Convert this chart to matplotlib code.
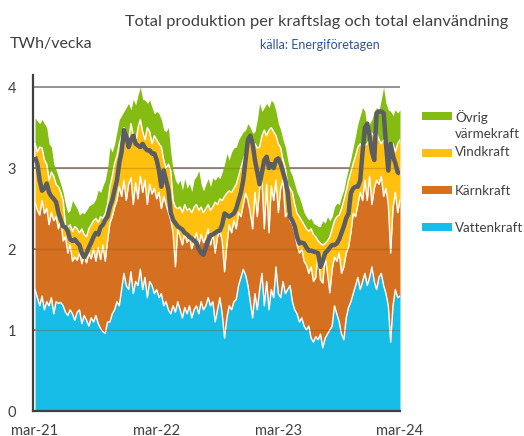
import matplotlib.pyplot as plt
import matplotlib.patches as mpatches
import numpy as np

# Weekly values, TWh/week, mar-21 .. mar-24
vatten = [
    1.50, 1.40, 1.30, 1.42, 1.25, 1.35, 1.30, 1.40, 1.20, 1.35,
    1.33, 1.34, 1.30, 1.22, 1.18, 1.25, 1.20, 1.12, 1.22, 1.25,
    1.08, 1.18, 1.12, 1.05, 1.15, 1.10, 1.18, 1.08, 1.02, 0.98,
    0.96, 1.10, 1.10, 1.20, 1.25, 1.35, 1.30, 1.50, 1.70, 1.55,
    1.50, 1.72, 1.45, 1.60, 1.55, 1.75, 1.50, 1.65, 1.40, 1.60,
    1.55, 1.45, 1.50, 1.40, 1.45, 1.30, 1.35, 1.25, 1.20, 1.30,
    1.22, 1.35, 1.25, 1.15, 1.28, 1.20, 1.30, 1.15, 1.25, 1.30,
    1.20, 1.35, 1.25, 1.30, 1.40, 1.30, 1.35, 1.10, 1.25, 1.40,
    1.20, 0.90, 1.15, 1.30, 1.25, 1.35, 1.38, 1.55, 1.65, 1.75,
    1.68, 1.55, 1.35, 1.15, 1.45, 1.25, 1.50, 1.70, 1.30, 1.60,
    1.25, 1.50, 1.40, 1.78, 1.45, 1.40, 1.60, 1.45, 1.50, 1.55,
    1.35, 1.25, 1.20, 1.10, 1.15, 1.05, 1.00, 1.05, 0.90, 0.85,
    0.92, 0.88, 0.95, 0.78, 0.90, 0.95, 1.00, 1.05, 1.30, 1.20,
    1.10, 0.95, 0.88, 1.15, 1.28, 1.35, 1.45, 1.55, 1.65, 1.50,
    1.60, 1.70, 1.55, 1.65, 1.78, 1.60, 1.50, 1.65, 1.70, 1.55,
    1.45, 1.30, 0.85, 1.30, 1.50, 1.40, 1.42,
]
karn = [
    1.07, 1.08, 1.12, 1.18, 1.19, 1.15, 1.00, 1.05, 1.15, 1.05,
    0.92, 1.04, 0.80, 0.93, 0.77, 0.80, 0.65, 0.78, 0.64, 0.70,
    0.74, 0.74, 0.71, 0.90, 0.73, 0.90, 0.67, 0.94, 0.85, 1.07,
    0.89, 1.00, 1.22, 1.20, 1.27, 1.25, 1.47, 1.15, 1.15, 1.05,
    1.30, 1.16, 1.10, 1.22, 1.07, 1.15, 1.20, 1.20, 1.15, 1.20,
    1.13, 1.30, 1.12, 1.30, 1.05, 1.35, 1.20, 1.20, 1.16, 0.90,
    0.56, 0.90, 0.90, 0.90, 0.92, 0.88, 0.85, 0.85, 0.87, 0.90,
    0.85, 0.83, 0.83, 0.85, 0.85, 0.75, 0.85, 0.85, 0.90, 0.82,
    0.90, 0.82, 0.90, 1.00, 0.95, 1.00, 0.87, 0.90, 0.75, 0.80,
    1.01, 1.05, 1.10, 1.10, 1.25, 1.15, 1.25, 1.15, 0.95, 1.20,
    0.95, 1.28, 1.20, 1.07, 1.00, 1.35, 1.25, 0.95, 0.95, 0.80,
    0.95, 0.95, 0.85, 0.85, 0.85, 0.80, 0.80, 0.65, 0.88, 0.75,
    0.73, 1.07, 0.67, 0.80, 1.00, 0.75, 0.46, 0.70, 0.60, 0.65,
    0.85, 0.75, 0.90, 0.80, 0.74, 0.85, 0.99, 0.85, 0.90, 1.20,
    1.00, 1.15, 1.05, 1.25, 0.77, 1.15, 1.35, 1.15, 1.20, 1.10,
    1.30, 1.25, 1.10, 1.20, 1.20, 1.05, 1.18,
]
vind = [
    0.73, 0.72, 0.84, 0.65, 0.66, 0.55, 0.55, 0.50, 0.55, 0.40,
    0.52, 0.32, 0.50, 0.15, 0.32, 0.25, 0.37, 0.38, 0.39, 0.25,
    0.43, 0.26, 0.32, 0.30, 0.42, 0.35, 0.53, 0.31, 0.53, 0.33,
    0.59, 0.45, 0.45, 0.50, 0.54, 0.55, 0.53, 0.75, 0.65, 0.85,
    0.55, 0.67, 0.85, 0.48, 0.88, 0.70, 0.75, 0.50, 0.95, 0.65,
    0.62, 0.65, 0.73, 0.60, 0.76, 0.45, 0.45, 0.60, 0.61, 0.40,
    0.74, 0.25, 0.37, 0.40, 0.35, 0.40, 0.35, 0.45, 0.40, 0.35,
    0.43, 0.34, 0.37, 0.35, 0.30, 0.43, 0.32, 0.63, 0.40, 0.40,
    0.50, 0.93, 0.64, 0.42, 0.50, 0.40, 0.55, 0.45, 0.61, 0.55,
    0.51, 0.70, 0.90, 1.05, 0.60, 0.85, 0.51, 0.55, 1.22, 0.60,
    1.27, 0.72, 0.85, 0.55, 0.85, 0.50, 0.25, 0.60, 0.35, 0.40,
    0.40, 0.35, 0.39, 0.45, 0.35, 0.45, 0.45, 0.52, 0.47, 0.58,
    0.50, 0.15, 0.45, 0.47, 0.17, 0.40, 0.69, 0.50, 0.45, 0.55,
    0.47, 0.80, 0.82, 0.77, 0.83, 0.75, 0.62, 0.75, 0.71, 0.60,
    0.66, 0.43, 0.70, 0.45, 0.88, 0.65, 0.58, 0.55, 0.40, 0.70,
    0.55, 0.73, 1.30, 0.80, 0.50, 0.85, 0.75,
]
ovrig = [
    0.32, 0.38, 0.29, 0.35, 0.45, 0.45, 0.45, 0.31, 0.15, 0.18,
    0.12, 0.10, 0.10, 0.25, 0.18, 0.18, 0.38, 0.27, 0.25, 0.22,
    0.20, 0.26, 0.33, 0.28, 0.25, 0.22, 0.24, 0.40, 0.30, 0.40,
    0.41, 0.45, 0.49, 0.30, 0.24, 0.30, 0.30, 0.25, 0.20, 0.30,
    0.45, 0.17, 0.45, 0.48, 0.40, 0.40, 0.40, 0.49, 0.30, 0.39,
    0.45, 0.27, 0.35, 0.37, 0.34, 0.37, 0.45, 0.45, 0.23, 0.37,
    0.33, 0.30, 0.33, 0.28, 0.32, 0.27, 0.31, 0.26, 0.34, 0.35,
    0.49, 0.28, 0.27, 0.30, 0.32, 0.29, 0.36, 0.27, 0.35, 0.25,
    0.35, 0.40, 0.49, 0.38, 0.50, 0.50, 0.46, 0.45, 0.39, 0.35,
    0.27, 0.25, 0.15, 0.13, 0.15, 0.35, 0.54, 0.30, 0.28, 0.40,
    0.28, 0.34, 0.35, 0.30, 0.25, 0.22, 0.25, 0.26, 0.30, 0.22,
    0.20, 0.25, 0.26, 0.24, 0.20, 0.15, 0.15, 0.14, 0.13, 0.14,
    0.15, 0.18, 0.21, 0.30, 0.25, 0.30, 0.20, 0.15, 0.17, 0.17,
    0.13, 0.15, 0.13, 0.16, 0.15, 0.17, 0.20, 0.25, 0.29, 0.35,
    0.49, 0.42, 0.17, 0.20, 0.17, 0.30, 0.32, 0.35, 0.55, 0.65,
    0.50, 0.44, 0.45, 0.35, 0.52, 0.38, 0.37,
]
elanvandning = [
    3.14, 3.05, 2.85, 2.72, 2.75, 2.81, 2.70, 2.65, 2.62, 2.58,
    2.45, 2.36, 2.28, 2.27, 2.22, 2.12, 2.10, 2.12, 2.08, 2.05,
    1.95, 1.90, 1.95, 2.02, 2.08, 2.15, 2.20, 2.18, 2.27, 2.30,
    2.36, 2.40, 2.52, 2.60, 2.73, 2.85, 3.06, 3.20, 3.47, 3.40,
    3.26, 3.35, 3.40, 3.30, 3.28, 3.26, 3.30, 3.25, 3.22, 3.22,
    3.18, 3.18, 3.10, 2.97, 2.77, 2.97, 2.85, 2.73, 2.45, 2.36,
    2.32, 2.28, 2.26, 2.24, 2.20, 2.18, 2.15, 2.13, 2.10, 2.08,
    2.00, 1.95, 1.93, 2.02, 2.10, 2.17, 2.18, 2.20, 2.22, 2.23,
    2.30, 2.44, 2.42, 2.40, 2.42, 2.44, 2.50, 2.60, 2.70, 2.85,
    3.10, 3.35, 3.40, 3.30, 3.10, 2.95, 2.80, 2.95, 3.10, 3.14,
    3.00, 3.05, 3.00, 3.10, 3.12, 3.05, 2.95, 2.85, 2.70, 2.40,
    2.35, 2.28, 2.15, 2.07, 2.08, 2.07, 2.02, 1.98, 1.98, 1.97,
    1.96, 1.95, 1.78, 1.85, 1.95, 1.98, 2.02, 2.05, 2.05, 2.07,
    2.12, 2.20, 2.28, 2.38, 2.44, 2.69, 2.75, 2.77, 2.77, 2.85,
    3.20, 3.50, 3.55, 3.40, 3.20, 3.10, 3.68, 3.70, 3.70, 3.68,
    3.30, 2.97, 3.30, 3.15, 3.06, 2.95, 2.93,
]

serier = ['Vattenkraft', 'Kärnkraft', 'Vindkraft', 'Övrig\nvärmekraft']
farger = ['#17bde6', '#d4701f', '#ffc010', '#84bc14']
tick_veckor = [0, 52, 104, 156]
tick_text = ['mar-21', 'mar-22', 'mar-23', 'mar-24']

plt.rcParams['font.family'] = ['Lato', 'DejaVu Sans']
textfarg = '#404040'

fig = plt.figure(figsize=(5.24, 4.36), dpi=100)
ax = fig.add_axes([32.7 / 524, 25 / 436, (400 - 32.7) / 524, (411 - 75) / 436])

x = np.arange(len(vatten))
nivaer = np.cumsum(np.array([vatten, karn, vind, ovrig]), axis=0)
under = np.zeros(len(x))
for niva, farg in zip(nivaer, farger):
    ax.fill_between(x, under, niva, color=farg, lw=0, zorder=2)
    under = niva
for niva in nivaer[:3]:
    ax.plot(x, niva, color='white', lw=1.0, zorder=3)

# gridlines: solid behind, faint on top of the areas
ax.hlines([1, 2, 3, 4], -1, 156, color='#8a8a8a', lw=1.3, zorder=1)
ax.hlines([1, 2, 3], -1, 156, color='#7a3a10', lw=1.0, alpha=0.25, zorder=4)

ax.plot(x, elanvandning, color='#5b5d60', lw=3.2, zorder=5,
        solid_joinstyle='round', solid_capstyle='butt')

ax.set_xlim(-1, 156)
ax.set_ylim(0, 4.15)
ax.set_yticks([0, 1, 2, 3, 4])
ax.set_xticks(tick_veckor)
ax.set_xticklabels(tick_text)
ax.tick_params(axis='both', length=0, labelsize=10.5, colors=textfarg)
ax.tick_params(axis='y', pad=12)
ax.tick_params(axis='x', pad=9)
for s in ['top', 'right']:
    ax.spines[s].set_visible(False)
for s in ['left', 'bottom']:
    ax.spines[s].set_color('#404040')
    ax.spines[s].set_linewidth(1.6)

fig.text(10 / 524, 1 - 44 / 436, 'TWh/vecka', fontsize=11.5, color=textfarg,
         va='center', ha='left')
fig.text(125 / 524, 1 - 22 / 436, 'Total produktion per kraftslag och total elanvändning',
         fontsize=11.8, color=textfarg, va='center', ha='left')
fig.text(320 / 524, 1 - 45 / 436, 'källa: Energiföretagen', fontsize=9,
         color='#2f5597', va='center', ha='center')

# legend drawn by hand to the right of the plot
leg_rect_y = [227.5, 190, 152.5, 116]
leg_text_y = [[228], [191], [152], [117, 134]]
for namn, farg, ry, ty in zip(serier, farger, leg_rect_y, leg_text_y):
    fig.patches.append(mpatches.Rectangle((422 / 524, 1 - (ry + 4) / 436), 30 / 524, 8 / 436,
                                          transform=fig.transFigure, facecolor=farg,
                                          edgecolor='none'))
    for rad, yy in zip(namn.split('\n'), ty):
        fig.text(455 / 524, 1 - yy / 436, rad, fontsize=9.6, color=textfarg,
                 va='center', ha='left')

fig.savefig('out.png', dpi=100)
